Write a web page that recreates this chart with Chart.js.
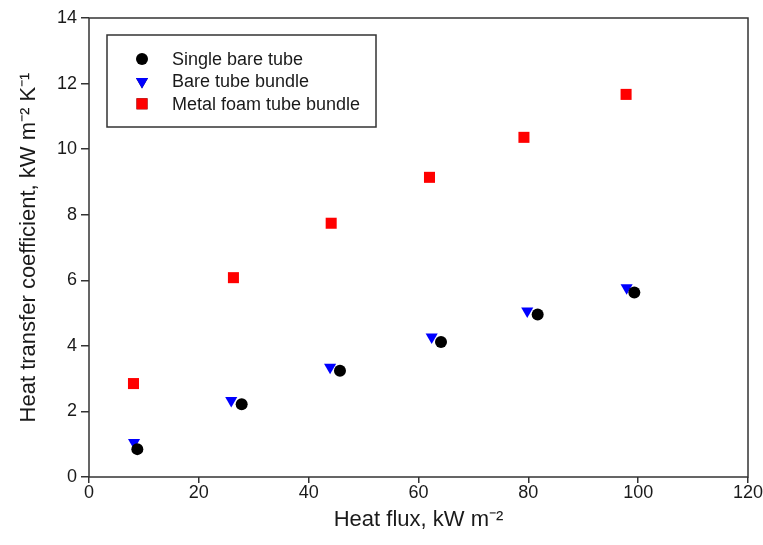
<!DOCTYPE html>
<html>
<head>
<meta charset="utf-8">
<script src="https://cdn.jsdelivr.net/npm/chart.js@4/dist/chart.umd.min.js"></script>
<style>
  html, body { margin: 0; padding: 0; background: #fff; }
  #wrap { width: 763px; height: 545px; }
</style>
</head>
<body>
<div id="wrap"><canvas id="myChart" width="763" height="545"></canvas></div>
<script>
// data
const seriesNames = ['Single bare tube', 'Bare tube bundle', 'Metal foam tube bundle'];
const singleX = [8.8, 27.8, 45.7, 64.1, 81.7, 99.3];
const singleY = [0.85, 2.22, 3.24, 4.12, 4.96, 5.63];
const bundleX = [8.2, 25.9, 43.9, 62.4, 79.8, 97.9];
const bundleY = [1.05, 2.33, 3.35, 4.27, 5.06, 5.77];
const foamX = [8.1, 26.3, 44.1, 62.0, 79.2, 97.8];
const foamY = [2.85, 6.08, 7.74, 9.14, 10.36, 11.67];
const xTicks = [0, 20, 40, 60, 80, 100, 120];
const yTicks = [0, 2, 4, 6, 8, 10, 12, 14];

const FONT = '"Liberation Sans", Arial, sans-serif';
const TEXT = '#1a1a1a';

function toPoints(xs, ys) {
    return xs.map((x, i) => ({ x: x, y: ys[i] }));
}

const frame = {
    id: 'frame',
    afterDraw(chart) {
        const { ctx, chartArea: a } = chart;
        ctx.save();
        ctx.strokeStyle = '#333';
        ctx.lineWidth = 1.5;
        ctx.strokeRect(a.left, a.top, a.right - a.left, a.bottom - a.top);
        ctx.restore();
    }
};

// legend box drawn inside the plot, top-left
const boxLegend = {
    id: 'boxLegend',
    afterDraw(chart) {
        const { ctx } = chart;
        const x0 = 107, y0 = 35, w = 269, h = 92;
        ctx.save();
        ctx.fillStyle = '#fff';
        ctx.fillRect(x0, y0, w, h);
        ctx.strokeStyle = '#333';
        ctx.lineWidth = 1.5;
        ctx.strokeRect(x0, y0, w, h);
        ctx.font = '18px ' + FONT;
        ctx.textBaseline = 'middle';
        chart.data.datasets.forEach((ds, i) => {
            const cy = y0 + 24 + i * 22.4;
            Chart.helpers.drawPoint(ctx, {
                pointStyle: ds.pointStyle,
                radius: ds.pointRadius,
                rotation: ds.rotation || 0,
                borderWidth: 0
            }, x0 + 35, cy);
            ctx.fillStyle = ds.backgroundColor;
            ctx.fill();
            ctx.fillStyle = TEXT;
            ctx.fillText(ds.label, x0 + 65, cy + 1);
        });
        ctx.restore();
    }
};

const chart = new Chart(document.getElementById('myChart'), {
    type: 'scatter',
    data: {
        datasets: [
            {
                label: seriesNames[0],
                data: toPoints(singleX, singleY),
                pointStyle: 'circle',
                pointRadius: 6,
                backgroundColor: '#000',
                borderWidth: 0
            },
            {
                label: seriesNames[1],
                data: toPoints(bundleX, bundleY),
                pointStyle: 'triangle',
                rotation: 180,
                pointRadius: 7,
                backgroundColor: '#0000ff',
                borderWidth: 0
            },
            {
                label: seriesNames[2],
                data: toPoints(foamX, foamY),
                pointStyle: 'rect',
                pointRadius: 7.8,
                backgroundColor: '#ff0000',
                borderWidth: 0
            }
        ]
    },
    options: {
        responsive: false,
        animation: false,
        layout: { padding: { top: 18, right: 15, left: 0, bottom: 0 } },
        plugins: {
            legend: { display: false },
            tooltip: { enabled: false }
        },
        scales: {
            x: {
                type: 'linear',
                min: 0,
                max: 120,
                afterBuildTicks: (axis) => { axis.ticks = xTicks.map(v => ({ value: v })); },
                afterFit: (axis) => { axis.height = 68; },
                grid: {
                    drawOnChartArea: false,
                    tickLength: 6,
                    color: '#333',
                    lineWidth: 1.5
                },
                border: { display: false },
                ticks: {
                    color: TEXT,
                    font: { family: FONT, size: 18 },
                    padding: -1,
                    maxRotation: 0
                },
                title: {
                    display: true,
                    text: 'Heat flux, kW m⁻²',
                    color: TEXT,
                    font: { family: FONT, size: 22 },
                    padding: { top: 0, bottom: 12 }
                }
            },
            y: {
                type: 'linear',
                min: 0,
                max: 14,
                afterBuildTicks: (axis) => { axis.ticks = yTicks.map(v => ({ value: v })); },
                afterFit: (axis) => { axis.width = 89; },
                grid: {
                    drawOnChartArea: false,
                    tickLength: 8,
                    color: '#333',
                    lineWidth: 1.5
                },
                border: { display: false },
                ticks: {
                    color: TEXT,
                    font: { family: FONT, size: 18 },
                    padding: 4
                },
                title: {
                    display: true,
                    text: 'Heat transfer coefficient, kW m⁻² K⁻¹',
                    color: TEXT,
                    font: { family: FONT, size: 22 },
                    padding: { top: 16, bottom: 0 }
                }
            }
        }
    },
    plugins: [frame, boxLegend]
});
</script>
</body>
</html>
